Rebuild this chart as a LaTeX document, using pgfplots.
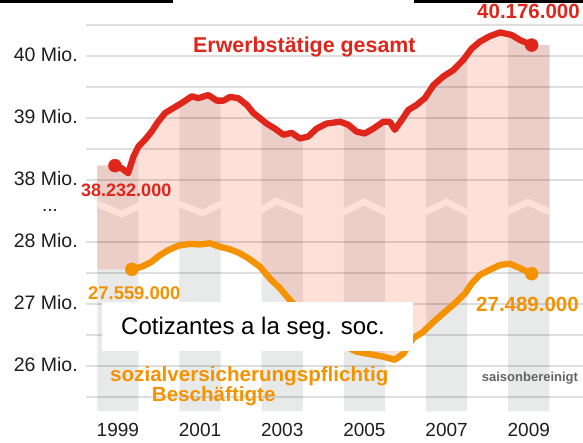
\documentclass[border=0pt]{standalone}
\usepackage{fontspec}
\setmainfont{Liberation Sans}
\usepackage{pgfplots}
\usepackage{pgfplotstable}
\pgfplotsset{compat=1.18}
\usepgfplotslibrary{fillbetween}
\definecolor{ered}{RGB}{224,37,27}
\definecolor{eorange}{RGB}{245,146,0}
\definecolor{epink}{RGB}{253,225,217}
\definecolor{epinkgrey}{RGB}{236,206,200}
\definecolor{egrey}{RGB}{232,234,234}
\definecolor{etick}{RGB}{30,30,30}
\definecolor{esais}{RGB}{100,100,100}

% Erwerbstaetige gesamt (Mio.), with flat ends for the shaded area
\pgfplotstableread{
x y
1999.00 38.232
1999.43 38.232
1999.59 38.19
1999.75 38.11
1999.88 38.38
2000.00 38.54
2000.16 38.65
2000.32 38.78
2000.48 38.94
2000.65 39.08
2000.85 39.16
2001.05 39.24
2001.30 39.35
2001.46 39.32
2001.70 39.37
2001.91 39.28
2002.07 39.28
2002.23 39.34
2002.43 39.32
2002.64 39.21
2002.80 39.08
2003.12 38.91
2003.32 38.83
2003.53 38.73
2003.73 38.76
2003.93 38.67
2004.13 38.70
2004.34 38.83
2004.58 38.91
2004.91 38.94
2005.11 38.89
2005.31 38.78
2005.51 38.75
2005.72 38.83
2005.96 38.94
2006.12 38.94
2006.24 38.81
2006.41 38.97
2006.57 39.13
2006.77 39.21
2006.97 39.32
2007.18 39.53
2007.42 39.67
2007.66 39.77
2007.91 39.94
2008.11 40.12
2008.31 40.23
2008.55 40.32
2008.80 40.38
2009.08 40.34
2009.28 40.26
2009.57 40.176
2010.00 40.176
}\reddata

% sozialversicherungspflichtig Beschaeftigte (Mio.)
\pgfplotstableread{
x y
1999.00 27.559
1999.84 27.559
2000.08 27.60
2000.32 27.68
2000.53 27.79
2000.73 27.87
2000.97 27.94
2001.26 27.97
2001.50 27.96
2001.74 27.98
2001.99 27.92
2002.19 27.89
2002.43 27.83
2002.67 27.74
2002.96 27.60
2003.20 27.41
2003.45 27.25
2003.69 27.06
2003.95 26.88
2004.30 26.65
2004.70 26.45
2005.00 26.33
2005.31 26.23
2005.64 26.19
2005.96 26.15
2006.24 26.10
2006.45 26.20
2006.69 26.45
2006.93 26.55
2007.18 26.71
2007.42 26.85
2007.70 27.01
2007.95 27.17
2008.11 27.33
2008.31 27.47
2008.55 27.55
2008.80 27.63
2009.04 27.65
2009.28 27.58
2009.57 27.489
2010.00 27.489
}\orangedata

\begin{document}
\begin{tikzpicture}
\begin{axis}[
  at={(86pt,27.4pt)}, anchor=south west,
  scale only axis, width=497pt, height=396.8pt,
  xmin=1998.725, xmax=2010.82, ymin=25.2, ymax=31.6,
  axis line style={draw=none}, major tick length=0pt,
  xtick={1999.5,2001.5,2003.5,2005.5,2007.5,2009.5},
  xticklabels={1999,2001,2003,2005,2007,2009},
  ytick={26,27,28,29,30,31},
  yticklabels={26 Mio.,27 Mio.,28 Mio.,38 Mio.,39 Mio.,40 Mio.},
  xticklabel style={font=\fontsize{19}{19}\selectfont, text=etick, anchor=center, yshift=-13.9pt},
  yticklabel style={font=\fontsize{19.5}{19.5}\selectfont, text=etick, anchor=east, xshift=-4.7pt, yshift=1.5pt},
]
\addplot[draw=none, name path=top] table[x=x, y expr=\thisrow{y}-9] {\reddata};
\addplot[draw=none, name path=bot] table[x=x, y=y] {\orangedata};
\addplot[draw=none, name path=base] coordinates {(1999,25.27) (2010,25.27)};

% grey year columns
\addplot[egrey] fill between[of=top and base, soft clip={domain=1999:2000}];
\addplot[egrey] fill between[of=top and base, soft clip={domain=2001:2002}];
\addplot[egrey] fill between[of=top and base, soft clip={domain=2003:2004}];
\addplot[egrey] fill between[of=top and base, soft clip={domain=2005:2006}];
\addplot[egrey] fill between[of=top and base, soft clip={domain=2007:2008}];
\addplot[egrey] fill between[of=top and base, soft clip={domain=2009:2010}];
% pink area between the two series
\addplot[epink] fill between[of=top and bot];
\addplot[epinkgrey] fill between[of=top and bot, soft clip={domain=1999:2000}];
\addplot[epinkgrey] fill between[of=top and bot, soft clip={domain=2001:2002}];
\addplot[epinkgrey] fill between[of=top and bot, soft clip={domain=2003:2004}];
\addplot[epinkgrey] fill between[of=top and bot, soft clip={domain=2005:2006}];
\addplot[epinkgrey] fill between[of=top and bot, soft clip={domain=2007:2008}];
\addplot[epinkgrey] fill between[of=top and bot, soft clip={domain=2009:2010}];

% axis break zigzag
\addplot[epink, line width=6.5pt, line join=miter] coordinates {
(1999.00,28.613) (1999.60,28.452) (2000.00,28.58) (2001.00,28.613) (2001.57,28.468)
(2002.00,28.613) (2003.00,28.516) (2003.35,28.661) (2004.00,28.484) (2005.00,28.484)
(2005.49,28.645) (2006.00,28.484) (2006.97,28.484) (2007.51,28.645) (2007.97,28.484)
(2008.97,28.484) (2009.48,28.645) (2010.00,28.484)};

% grid lines
\pgfplotsinvokeforeach{25.5,26,26.5,27,27.5,28,29,29.5,30,30.5,31,31.5}{
  \draw[black, opacity=0.13, line width=1.6pt] (axis cs:1998.725,#1) -- (axis cs:2010.82,#1);
}

\addplot[ered, line width=6.3pt, line join=round, line cap=round, restrict x to domain=1999.2:2009.8]
  table[x=x, y expr=\thisrow{y}-9] {\reddata};
\addplot[eorange, line width=6.3pt, line join=round, line cap=round, restrict x to domain=1999.2:2009.8]
  table[x=x, y=y] {\orangedata};
\addplot[ered, only marks, mark=*, mark size=6.5pt] coordinates {(1999.43,29.232) (2009.57,31.176)};
\addplot[eorange, only marks, mark=*, mark size=6.5pt] coordinates {(1999.84,27.559) (2009.57,27.489)};
\end{axis}
\pgfresetboundingbox
\useasboundingbox (0pt,0pt) rectangle (583pt,443pt);

% annotations (picture coordinates, origin bottom left)
\node[anchor=base west, inner sep=0, text=ered, font=\fontsize{21.4}{21.4}\selectfont\bfseries] at (193pt,390.3pt) {Erwerbstätige gesamt};
\node[anchor=base west, inner sep=0, text=ered, font=\fontsize{18}{18}\selectfont\bfseries] at (81pt,246.3pt) {38.232.000};
\node[anchor=base west, inner sep=0, text=ered, font=\fontsize{20.5}{20.5}\selectfont\bfseries] at (477pt,424.7pt) {40.176.000};
\node[anchor=base west, inner sep=0, text=eorange, font=\fontsize{18.4}{18.4}\selectfont\bfseries] at (88pt,143pt) {27.559.000};
\node[anchor=base west, inner sep=0, text=eorange, font=\fontsize{20.5}{20.5}\selectfont\bfseries] at (476pt,131.3pt) {27.489.000};
\node[anchor=base west, inner sep=0, text=eorange, font=\fontsize{20.6}{20.6}\selectfont\bfseries] at (110pt,61pt) {sozialversicherungspflichtig};
\node[anchor=base west, inner sep=0, text=eorange, font=\fontsize{20.6}{20.6}\selectfont\bfseries] at (151.7pt,41.3pt) {Beschäftigte};
\node[anchor=base west, inner sep=0, text=esais, font=\fontsize{13}{13}\selectfont\bfseries] at (481.7pt,61.3pt) {saisonbereinigt};
\node[inner sep=0, text=etick, font=\fontsize{19}{19}\selectfont] at (50pt,233pt) {...};
% white label box
\fill[white] (102pt,92pt) rectangle (413pt,141pt);
\node[anchor=base west, inner sep=0, text=black, font=\fontsize{24}{24}\selectfont] at (121pt,108pt) {Cotizantes a la seg. soc.};
% top border fragments
\fill[black] (0pt,440.4pt) rectangle (173pt,443pt);
\fill[black] (414pt,440.4pt) rectangle (583pt,443pt);
\end{tikzpicture}
\end{document}
